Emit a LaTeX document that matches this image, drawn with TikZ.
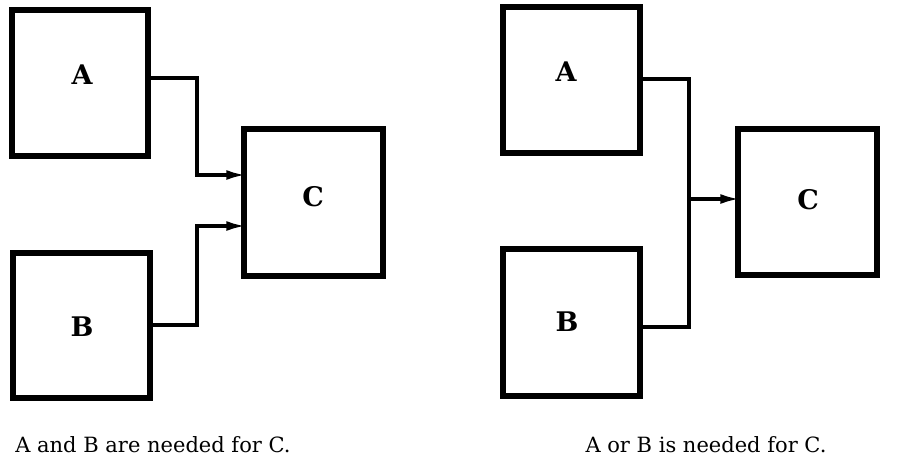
\documentclass[tikz,border=0pt]{standalone}
\usepackage{fontspec}
\setmainfont{DejaVu Serif}
\usetikzlibrary{arrows.meta}
\tikzset{
  block/.style={draw, line width=5.5pt, rectangle, inner sep=0pt},
  letter/.style={font=\fontsize{27}{27}\selectfont\bfseries, inner sep=0pt},
  wire/.style={line width=3.5pt, line join=miter},
  feed/.style={wire, shorten >=-5pt, -{Latex[length=20pt,width=10pt]}},
  caption/.style={font=\fontsize{21}{25}\selectfont, inner sep=0pt, anchor=base}
}
\begin{document}
\begin{tikzpicture}[x=1pt, y=-1pt]
\useasboundingbox (0,0) rectangle (897,467);

% ---- conjunction: both inputs feed C separately ----
\node[block, minimum width=136pt, minimum height=146pt] (lA) at (80,83) {};
\node[block, minimum width=137pt, minimum height=145pt] (lB) at (81.5,325.5) {};
\node[block, minimum width=139pt, minimum height=147pt] (lC) at (313.5,202.5) {};
\node[letter] (lAt) at (82,75) {A};
\node[letter] (lBt) at (82,327) {B};
\node[letter] (lCt) at (313,197) {C};

\draw[feed] (lA.east |- 0,78) -- (197,78) -- (197,175) -- (lC.west |- 0,175);
\draw[feed] (lB.east |- 0,325) -- (197,325) -- (197,226) -- (lC.west |- 0,226);

\node[caption] (lcap) at (153,452) {A and B are needed for C.};

% ---- disjunction: inputs merge before C ----
\node[block, minimum width=137pt, minimum height=146pt] (rA) at (571.5,80) {};
\node[block, minimum width=137pt, minimum height=147pt] (rB) at (571.5,322.5) {};
\node[block, minimum width=139pt, minimum height=146pt] (rC) at (807.5,202) {};
\node[letter] (rAt) at (566,72) {A};
\node[letter] (rBt) at (567,322) {B};
\node[letter] (rCt) at (808,200) {C};

\coordinate (join) at (689,199);
\draw[wire] (rA.east |- 0,79) -- (689,79) -- (689,327) -- (rB.east |- 0,327);
\draw[feed] (join) -- (rC.west |- join);

\node[caption] (rcap) at (706,452) {A or B is needed for C.};
\end{tikzpicture}
\end{document}
